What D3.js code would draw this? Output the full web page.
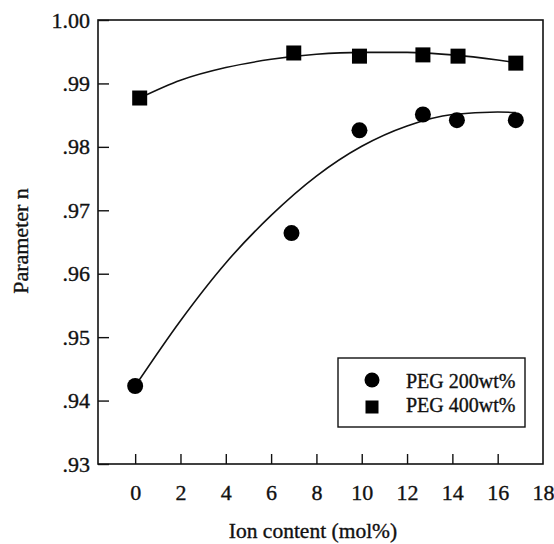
<!DOCTYPE html>
<html>
<head>
<meta charset="utf-8">
<script src="https://cdn.jsdelivr.net/npm/d3@7"></script>
<style>
	body { margin: 0; background: #fff; }
	text { font-family: "Liberation Serif", "Times New Roman", serif; fill: #111; stroke: #111; stroke-width: 0.35px; }
</style>
</head>
<body>
<script>
// ion content (mol%) and parameter n
var peg200X = [0, 6.9, 9.9, 12.7, 14.2, 16.8];
var peg200Y = [0.9423, 0.9664, 0.9826, 0.9851, 0.9842, 0.9842];
var peg400X = [0.2, 7.0, 9.9, 12.7, 14.25, 16.8];
var peg400Y = [0.9877, 0.9948, 0.9943, 0.9945, 0.9943, 0.9932];

// fitted curves as drawn in the figure
var fit200X = [0, 2, 4, 6, 8, 10, 12, 14, 16, 16.8];
var fit200Y = [0.9423, 0.9526, 0.9617, 0.9692, 0.9754, 0.9801, 0.9833, 0.9851, 0.9855, 0.9854];
var fit400X = [0.2, 2, 4, 6, 8, 10, 12, 14, 16, 16.8];
var fit400Y = [0.9877, 0.9905, 0.9925, 0.9938, 0.9946, 0.9949, 0.9949, 0.9945, 0.9937, 0.9933];

var xTicks = [0, 2, 4, 6, 8, 10, 12, 14, 16, 18];
var yTicks = [0.93, 0.94, 0.95, 0.96, 0.97, 0.98, 0.99, 1.00];
var legendLabels = ["PEG 200wt%", "PEG 400wt%"];

function main(){
	var w = 554, h = 544;
	var left = 98, right = 543, top = 20, bottom = 464;

	var svg = d3.select("body").append("svg")
		.attr("width", w)
		.attr("height", h);

	var x = d3.scaleLinear().domain([-1.64, 18]).range([left, right]);
	var y = d3.scaleLinear().domain([0.93, 1.00]).range([bottom, top]);

	// frame
	svg.append("rect")
		.attr("x", left).attr("y", top)
		.attr("width", right - left).attr("height", bottom - top)
		.attr("fill", "none").attr("stroke", "#111").attr("stroke-width", 1.6);

	var xAxis = svg.append("g")
		.attr("transform", "translate(0," + bottom + ")")
		.call(d3.axisBottom(x).tickValues(xTicks).tickSize(-10).tickPadding(20).tickFormat(d3.format("d")));
	xAxis.select(".domain").remove();
	xAxis.selectAll("line").attr("stroke", "#111").attr("stroke-width", 1.4)
		.filter(function(d){ return d === 18; }).remove();
	xAxis.selectAll("text").attr("font-size", 22).attr("fill", "#111");

	var yAxis = svg.append("g")
		.attr("transform", "translate(" + left + ",0)")
		.call(d3.axisLeft(y).tickValues(yTicks).tickSize(-11).tickPadding(8)
			.tickFormat(function(d){ return d === 1 ? "1.00" : d3.format(".2f")(d).slice(1); }));
	yAxis.select(".domain").remove();
	yAxis.selectAll("line").attr("stroke", "#111").attr("stroke-width", 1.4);
	yAxis.selectAll("text").attr("font-size", 22).attr("fill", "#111");

	// titles
	svg.append("text")
		.attr("x", 313).attr("y", 538)
		.attr("text-anchor", "middle")
		.attr("font-size", 21.5)
		.text("Ion content (mol%)");

	svg.append("text")
		.attr("transform", "translate(28,241) rotate(-90)")
		.attr("text-anchor", "middle")
		.attr("font-size", 22)
		.text("Parameter n");

	// fitted curves
	var line = d3.line()
		.x(function(d){ return x(d[0]); })
		.y(function(d){ return y(d[1]); })
		.curve(d3.curveMonotoneX);

	svg.append("path")
		.datum(d3.zip(fit200X, fit200Y))
		.attr("d", line)
		.attr("fill", "none").attr("stroke", "#111").attr("stroke-width", 1.6);

	svg.append("path")
		.datum(d3.zip(fit400X, fit400Y))
		.attr("d", line)
		.attr("fill", "none").attr("stroke", "#111").attr("stroke-width", 1.6);

	// markers
	svg.selectAll("circle.p200")
		.data(d3.zip(peg200X, peg200Y))
		.enter().append("circle")
		.attr("class", "p200")
		.attr("cx", function(d){ return x(d[0]); })
		.attr("cy", function(d){ return y(d[1]); })
		.attr("r", 8)
		.attr("fill", "#000");

	var s = 15;
	svg.selectAll("rect.p400")
		.data(d3.zip(peg400X, peg400Y))
		.enter().append("rect")
		.attr("class", "p400")
		.attr("x", function(d){ return x(d[0]) - s / 2; })
		.attr("y", function(d){ return y(d[1]) - s / 2; })
		.attr("width", s).attr("height", s)
		.attr("fill", "#000");

	// legend
	var lg = svg.append("g").attr("transform", "translate(338,358)");
	lg.append("rect")
		.attr("width", 187).attr("height", 69)
		.attr("fill", "#fff").attr("stroke", "#111").attr("stroke-width", 1.4)
		.attr("stroke-linejoin", "miter");
	lg.append("circle").attr("cx", 34).attr("cy", 22).attr("r", 7.5).attr("fill", "#000");
	lg.append("rect").attr("x", 27.5).attr("y", 42.5).attr("width", 13).attr("height", 13).attr("fill", "#000");
	lg.selectAll("text.lab")
		.data(legendLabels)
		.enter().append("text")
		.attr("class", "lab")
		.attr("x", 68)
		.attr("y", function(d, i){ return 30 + i * 24; })
		.attr("font-size", 20)
		.text(function(d){ return d; });
}

main();
</script>
</body>
</html>
